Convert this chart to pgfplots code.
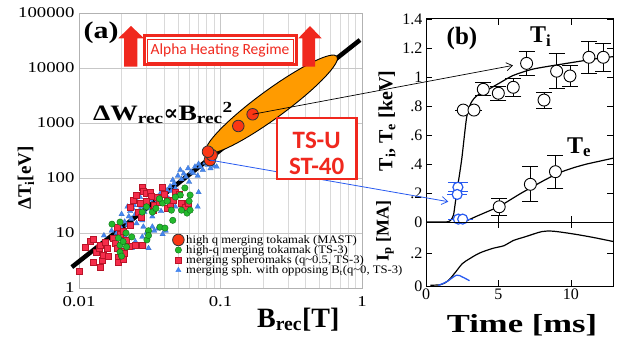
\documentclass[border=0pt]{standalone}
\usepackage{fontspec}
\setmainfont{Liberation Serif}
\newfontfamily\calibri{Carlito}
\newfontfamily\dejaserif{DejaVu Serif}
\newfontfamily\wideserif[FakeStretch=1.25]{Liberation Serif}
\newfontfamily\widerserif[FakeStretch=1.33]{Liberation Serif}
\newfontfamily\lgfont[FakeStretch=1.1]{Liberation Serif}
\usepackage{pgfplots}
\usepackage{pgfplotstable}
\pgfplotsset{compat=1.18}
\usetikzlibrary{arrows.meta}
\definecolor{sqred}{RGB}{245,45,75}
\definecolor{sqredd}{RGB}{185,20,40}
\definecolor{cgreen}{RGB}{35,185,45}
\definecolor{cgreend}{RGB}{15,110,25}
\definecolor{tblue}{RGB}{70,135,240}
\definecolor{mastred}{RGB}{250,55,20}
\definecolor{orng}{RGB}{255,155,0}
\definecolor{alphared}{RGB}{240,40,30}
\definecolor{lblue}{RGB}{40,90,240}

\pgfplotstableread{
x y
0.0100 2.0
0.0110 5.6
0.0120 7.0
0.0126 3.0
0.0126 7.6
0.0132 4.4
0.0138 5.2
0.0141 6.0
0.0141 2.4
0.0145 3.2
0.0148 4.0
0.0153 6.9
0.0158 5.3
0.0162 3.8
0.0174 8.1
0.0180 6.6
0.0185 5.3
0.0190 3.7
0.0190 3.0
0.0200 4.6
0.0205 3.4
0.0210 4.3
0.0217 7.5
0.0195 9.5
0.0185 12.5
0.0205 11
0.0225 5.8
0.0250 6.0
0.0280 6.0
0.0230 14
0.0230 30
0.0240 40
0.0255 48
0.0260 24
0.0275 19
0.0280 68
0.0285 58
0.0300 52
0.0320 56
0.0325 46
0.0332 26
0.0340 32
0.0355 45
0.0370 36
0.0390 68
0.0400 50
0.0420 40
0.0420 28
0.0440 34
0.0460 40
0.0477 56
0.0510 50
0.0530 35
0.0560 30
0.0590 35
0.0300 38
0.0270 35
}\redsq

\pgfplotstableread{
x y
0.0171 14.5
0.0195 15.8
0.0190 8.1
0.0195 6.0
0.0205 7.0
0.0217 5.6
0.0195 4.5
0.0200 3.8
0.0215 10
0.0236 8.5
0.0310 11
0.0302 7.5
0.0310 9
0.0373 12.8
0.0405 12.3
0.0460 17
0.0390 35
0.0450 26
0.0530 26
0.0580 23
0.0610 26
0.0520 49
0.0560 66
0.0610 49
0.0370 42
0.0420 38
0.0330 24
0.0280 24
0.0300 30
0.0350 28
0.0480 45
0.0600 38
}\grc

\pgfplotstableread{
x y
0.0150 9
0.0170 11
0.0185 10
0.0200 12
0.0210 16
0.0220 14
0.0225 20
0.0230 25
0.0235 18
0.0240 28
0.0245 32
0.0250 22
0.0255 15
0.0260 36
0.0270 26
0.0275 30
0.0280 17
0.0285 13
0.0290 24
0.0300 33
0.0300 10
0.0310 28
0.0320 40
0.0330 13
0.0340 11
0.0350 35
0.0360 45
0.0360 12
0.0380 55
0.0390 9.5
0.0400 48
0.0410 11
0.0420 60
0.0440 70
0.0450 58
0.0460 92
0.0470 80
0.0480 65
0.0500 110
0.0520 140
0.0530 95
0.0550 120
0.0570 105
0.0590 150
0.0600 85
0.0620 130
0.0640 123
0.0660 160
0.0690 110
0.0700 180
0.0720 160
0.0750 140
0.0780 190
0.0810 172
0.0850 150
0.0900 165
0.0940 160
0.0690 30
0.0700 55
0.0236 5.3
0.0310 5.3
0.0250 7
0.0200 8
0.0180 6.5
0.0280 8.5
0.0330 20
0.0380 25
0.0430 42
0.0270 45
0.0220 30
0.0310 50
0.0480 30
0.0200 22
0.0210 9
}\bltri

\begin{document}
\begin{tikzpicture}[x=1pt,y=1pt]
\useasboundingbox (0,0) rectangle (618,338);

% ---------- panel (a) ----------
\begin{axis}[
  at={(79pt,50pt)}, anchor=south west, scale only axis,
  width=283pt, height=275pt,
  xmode=log, ymode=log,
  xmin=0.01, xmax=1, ymin=1, ymax=100000,
  xtick={0.01,0.1,1}, xticklabels={0.01,0.1,1},
  ytick={1,10,100,1000,10000,100000},
  yticklabels={1,10,100,1000,10000,100000},
  xmajorgrids, xminorgrids, ymajorgrids, yminorgrids=false,
  major grid style={black!22, line width=0.7pt},
  minor grid style={black!15, line width=0.6pt},
  axis line style={black!30, line width=0.7pt},
  tick style={draw=none},
  tick label style={font=\wideserif\fontsize{15}{15}\selectfont},
  xticklabel style={yshift=-5pt},
  yticklabel style={xshift=-1pt},
  clip=false,
  legend style={at={(0.33,0.2)}, anchor=north west, draw=none, fill=none,
    font=\lgfont\fontsize{11.5}{11.5}\selectfont, row sep=-3.4pt, inner sep=0pt,
    cells={anchor=west}},
  legend cell align=left,
]
\addlegendimage{only marks, mark=*, mark size=5.8pt, mark options={fill=mastred, draw=black!80, line width=0.8pt}}
\addlegendentry{high q merging tokamak (MAST)}
\addlegendimage{only marks, mark=*, mark size=3.2pt, mark options={fill=cgreen, draw=cgreend, line width=0.4pt}}
\addlegendentry{high-q merging tokamak (TS-3)}
\addlegendimage{only marks, mark=square*, mark size=3pt, mark options={fill=sqred, draw=sqredd, line width=0.4pt}}
\addlegendentry{merging spheromaks (q\textasciitilde0.5, TS-3)}
\addlegendimage{only marks, mark=triangle*, mark size=3pt, mark options={fill=tblue, draw=tblue}}
\addlegendentry{merging sph. with opposing B\textsubscript{t}(q\textasciitilde0, TS-3)}

\addplot[forget plot, only marks, mark=triangle*, mark size=3.2pt, mark options={fill=tblue, draw=tblue!80!black, line width=0.2pt}] table {\bltri};
\addplot[forget plot, only marks, mark=square*, mark size=3pt, mark options={fill=sqred, draw=sqredd, line width=0.4pt}] table {\redsq};
\addplot[forget plot, only marks, mark=*, mark size=3.2pt, mark options={fill=cgreen, draw=cgreend, line width=0.4pt}] table {\grc};
\addplot[forget plot, black, line width=4.5pt] coordinates {(0.0089,2.4) (0.968,32300)};
\draw[fill=orng, draw=black, line width=0.9pt, rotate around={36.2:(axis cs:0.230,2200)}] (axis cs:0.230,2200) ellipse [x radius=81pt, y radius=14pt];
\addplot[forget plot, only marks, mark=*, mark size=5.8pt, mark options={fill=mastred, draw=black!80, line width=0.8pt}] coordinates {(0.0842,212) (0.0866,262) (0.0816,301) (0.1336,882) (0.1687,1440)};
\coordinate (m1) at (axis cs:0.1687,1440);
\coordinate (m2) at (axis cs:0.0842,212);
\end{axis}

% ---------- panel (b) top ----------
\begin{axis}[
  at={(426pt,116pt)}, anchor=south west, scale only axis,
  width=187pt, height=203pt,
  xmin=0, xmax=12.9, ymin=0, ymax=1.4,
  xtick={0,5,10}, xticklabels={},
  ytick={0,0.2,0.4,0.6,0.8,1,1.2,1.4},
  yticklabels={0,.2,.4,.6,.8,1,1.2,1.4},
  tick align=inside, xtick pos=both, ytick pos=both,
  major tick length=6pt,
  tick style={black, line width=0.8pt},
  axis line style={black, line width=1pt},
  tick label style={font=\fontsize{16}{16}\selectfont},
  clip=false,
]
\addplot[black, line width=1.2pt, smooth, tension=0.4] coordinates {(0,0) (1.4,0) (1.7,0.012) (1.9,0.05) (2.1,0.19) (2.46,0.43) (2.8,0.72) (3.1,0.82) (3.5,0.87) (4.4,0.92) (5.1,0.96) (6,1.01) (7.4,1.055) (9.7,1.094) (12,1.13) (12.9,1.14)};
\addplot[black, line width=1.2pt, smooth, tension=0.4] coordinates {(2.2,0) (2.7,0.005) (3.5,0.04) (5.0,0.105) (5.6,0.14) (6.5,0.195) (7.3,0.24) (8.2,0.29) (9.2,0.34) (10.2,0.375) (11.1,0.4) (12.0,0.42) (12.9,0.44)};
% Ti points
\addplot[only marks, mark=*, mark size=6pt, mark options={fill=white, draw=black, line width=0.9pt},
  error bars/.cd, y dir=both, y explicit,
  error bar style={black, line width=0.9pt},
  error mark options={rotate=90, black, line width=0.9pt, mark size=8pt}]
  coordinates {
  (2.57,0.772) +- (0,0)
  (3.31,0.772) +- (0,0)
  (3.95,0.915) +- (0,0.045)
  (4.99,0.888) +- (0,0.05)
  (6.02,0.929) +- (0,0.06)
  (6.94,1.094) +- (0,0.08)
  (8.14,0.841) +- (0,0.055)
  (9.01,1.04) +- (0,0.12)
  (9.93,1.007) +- (0,0.07)
  (11.24,1.136) +- (0,0.11)
  (12.23,1.136) +- (0,0.095)
  };
% Te points
\addplot[only marks, mark=*, mark size=6pt, mark options={fill=white, draw=black, line width=0.9pt},
  error bars/.cd, y dir=both, y explicit,
  error bar style={black, line width=0.9pt},
  error mark options={rotate=90, black, line width=0.9pt, mark size=8pt}]
  coordinates {
  (5.05,0.105) +- (0,0.06)
  (7.2,0.26) +- (0,0.12)
  (8.93,0.347) +- (0,0.115)
  };
% blue points
\addplot[only marks, mark=*, mark size=5pt, mark options={fill=white, draw=lblue, line width=1.2pt},
  error bars/.cd, y dir=both, y explicit,
  error bar style={lblue, line width=1.2pt},
  error mark options={rotate=90, lblue, line width=1.2pt, mark size=10pt}]
  coordinates {
  (2.2,0.24) +- (0,0.03)
  (2.15,0.19) +- (0,0)
  (2.23,0.02) +- (0,0)
  (2.53,0.02) +- (0,0)
  };
\coordinate (a1) at (axis cs:6.0,1.08);
\coordinate (a2) at (axis cs:1.54,0.14);
\end{axis}

% ---------- panel (b) bottom ----------
\begin{axis}[
  at={(426pt,52pt)}, anchor=south west, scale only axis,
  width=187pt, height=64pt,
  xmin=0, xmax=12.9, ymin=0, ymax=0.388,
  xtick={0,5,10}, xticklabels={0,5,10},
  ytick={0,0.2}, yticklabels={0,.2},
  tick align=inside, xtick pos=both, ytick pos=both,
  major tick length=6pt,
  tick style={black, line width=0.8pt},
  axis line style={black, line width=1pt},
  tick label style={font=\fontsize{16}{16}\selectfont},
  xticklabel style={yshift=1pt},
  clip=false,
]
\addplot[black, line width=1.2pt, smooth, tension=0.5] coordinates {(0.3,0.005) (1.0,0.008) (1.5,0.03) (2.0,0.08) (2.5,0.135) (3.0,0.165) (3.7,0.2) (4.6,0.228) (5.4,0.245) (6.0,0.275) (6.9,0.3) (8.0,0.33) (8.8,0.332) (10.2,0.315) (11.5,0.295) (12.9,0.27)};
\addplot[lblue, line width=1.3pt, smooth, tension=0.6] coordinates {(0.85,0.004) (1.43,0.026) (2.1,0.065) (2.5,0.055) (3.0,0.032)};
\end{axis}

% ---------- annotations ----------
\draw[black, line width=0.7pt, -{Straight Barb[length=6pt,width=8pt]}] (m1) -- (a1);
\draw[lblue, line width=0.8pt, -{Straight Barb[length=6pt,width=8pt]}] (m2) -- (a2);

% red arrows and box
\fill[alphared] (124,271.3) -- (124,299.7) -- (118.3,299.7) -- (131,312) -- (144,299.7) -- (137.3,299.7) -- (137.3,271.3) -- cycle;
\fill[alphared] (302.3,271.3) -- (302.3,299.7) -- (298.3,299.7) -- (310,312) -- (321.7,299.7) -- (315,299.7) -- (315,271.3) -- cycle;
\filldraw[fill=white, draw=alphared, line width=3pt] (144.5,273) rectangle (296.5,302);
\draw[alphared, line width=0.8pt] (147.5,276) rectangle (293.5,299);
\node[text=alphared, font=\calibri\fontsize{15.5}{15.5}\selectfont] at (220,287.5) {Alpha Heating Regime};

\filldraw[fill=white, draw=alphared, line width=2.2pt] (277,159) rectangle (356.5,220);
\node[anchor=base, text=alphared, font=\calibri\bfseries\fontsize{25}{25}\selectfont] at (316.7,190) {TS-U};
\node[anchor=base, text=alphared, font=\calibri\bfseries\fontsize{25}{25}\selectfont] at (316.7,164) {ST-40};

\node[anchor=base west, inner sep=0, font=\wideserif\bfseries\fontsize{22}{22}\selectfont] at (93,218) {ΔW\textsubscript{rec}{\dejaserif\bfseries ∝}B\textsubscript{rec}\textsuperscript{2}};
\node[font=\wideserif\bfseries\fontsize{24}{24}\selectfont] at (101,305) {(a)};
\node[font=\bfseries\fontsize{25}{25}\selectfont] at (462,300) {(b)};
\node[rotate=90, font=\bfseries\fontsize{19}{19}\selectfont] at (26,160) {ΔT\textsubscript{i}[eV]};
\node[anchor=base west, inner sep=0, font=\bfseries\fontsize{28}{28}\selectfont] at (257,11) {B\textsubscript{rec}[T]};
\node[anchor=base, inner sep=0, font=\widerserif\bfseries\fontsize{26}{26}\selectfont] at (522,6) {Time [ms]};
\node[anchor=base west, inner sep=0, font=\bfseries\fontsize{24}{24}\selectfont] at (530,295) {T\textsubscript{i}};
\node[anchor=base west, inner sep=0, font=\bfseries\fontsize{24}{24}\selectfont] at (567,185) {T\textsubscript{e}};
\node[rotate=90, font=\bfseries\fontsize{20}{20}\selectfont] at (387,217) {T\textsubscript{i}, T\textsubscript{e} [keV]};
\node[rotate=90, font=\bfseries\fontsize{18}{18}\selectfont] at (385,107) {I\textsubscript{p} [MA]};
\end{tikzpicture}
\end{document}
